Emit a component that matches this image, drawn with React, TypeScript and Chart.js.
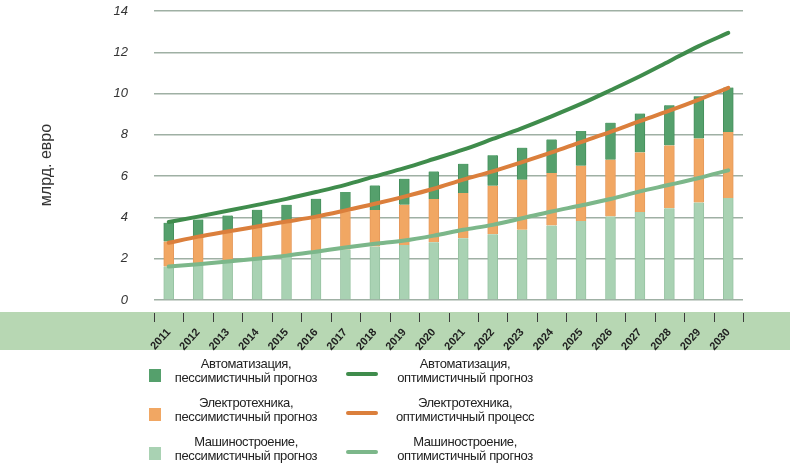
import React, { useEffect, useRef } from "react";
import { Chart, registerables } from "chart.js";

Chart.register(...registerables);

const years = ["2011","2012","2013","2014","2015","2016","2017","2018","2019","2020","2021","2022","2023","2024","2025","2026","2027","2028","2029","2030"];

// pessimistic forecasts (stacked bars, increments)
const machinePess = [1.62, 1.78, 1.94, 2.03, 2.18, 2.32, 2.45, 2.59, 2.67, 2.80, 2.99, 3.19, 3.40, 3.61, 3.83, 4.05, 4.26, 4.45, 4.72, 4.94];
const electroPess = [1.21, 1.22, 1.34, 1.47, 1.57, 1.70, 1.85, 1.77, 1.94, 2.09, 2.19, 2.34, 2.43, 2.54, 2.67, 2.75, 2.89, 3.04, 3.10, 3.20];
const autoPess = [0.91, 0.90, 0.81, 0.87, 0.86, 0.88, 0.93, 1.19, 1.26, 1.34, 1.42, 1.48, 1.55, 1.63, 1.69, 1.79, 1.88, 1.94, 2.05, 2.15];

// optimistic forecasts (lines, totals)
const autoOpt = [3.78, 4.04, 4.32, 4.61, 4.90, 5.23, 5.58, 5.99, 6.39, 6.83, 7.28, 7.80, 8.33, 8.90, 9.50, 10.16, 10.84, 11.57, 12.30, 12.94];
const electroOpt = [2.77, 3.07, 3.32, 3.56, 3.80, 4.04, 4.34, 4.66, 5.01, 5.39, 5.83, 6.23, 6.68, 7.15, 7.65, 8.14, 8.66, 9.17, 9.71, 10.28];
const machineOpt = [1.62, 1.73, 1.86, 2.00, 2.15, 2.34, 2.54, 2.72, 2.88, 3.12, 3.40, 3.64, 3.96, 4.29, 4.58, 4.89, 5.26, 5.58, 5.91, 6.28];

const yTicks = [0, 2, 4, 6, 8, 10, 12, 14];
const yTitle = "млрд. евро";

const legendRows = [
  { bar: ["Автоматизация,", "пессимистичный прогноз"], line: ["Автоматизация,", "оптимистичный прогноз"], barColor: "#55a06c", lineColor: "#3f8c4c" },
  { bar: ["Электротехника,", "пессимистичный прогноз"], line: ["Электротехника,", "оптимистичный процесс"], barColor: "#f1a763", lineColor: "#db7f3c" },
  { bar: ["Машиностроение,", "пессимистичный прогноз"], line: ["Машиностроение,", "оптимистичный прогноз"], barColor: "#a9d2b3", lineColor: "#7cb78a" },
];

const C = {
  autoBar: "#55a06c",
  autoBarEdge: "#458f5c",
  elecBar: "#f1a763",
  elecBarEdge: "#e6995a",
  machBar: "#a9d2b3",
  machBarEdge: "#97c3a2",
  autoLine: "#3f8c4c",
  elecLine: "#db7f3c",
  machLine: "#7cb78a",
  grid: "#9fb0a4",
  band: "#b7d7b3",
  text: "#333333",
};

const bandPlugin = {
  id: "band",
  beforeDraw(chart: any) {
    const ctx = chart.ctx;
    ctx.save();
    ctx.fillStyle = C.band;
    ctx.fillRect(0, 312, chart.width, 38);
    const x = chart.scales.x;
    const n = years.length;
    const step = x.getPixelForValue(1) - x.getPixelForValue(0);
    ctx.strokeStyle = "#3a3a3a";
    ctx.lineWidth = 1;
    for (let i = 0; i <= n; i++) {
      let px = x.getPixelForValue(Math.min(i, n - 1)) + (i < n ? -step / 2 : step / 2);
      px = Math.round(px) + 0.5;
      ctx.beginPath();
      ctx.moveTo(px, 313);
      ctx.lineTo(px, 322);
      ctx.stroke();
    }
    ctx.translate(47, 165);
    ctx.rotate(-Math.PI / 2);
    ctx.fillStyle = C.text;
    ctx.font = "16px 'Liberation Sans', Arial, sans-serif";
    ctx.textAlign = "center";
    ctx.textBaseline = "middle";
    ctx.fillText(yTitle, 0, 0);
    ctx.restore();
  },
};

function App() {
  const ref = useRef<HTMLCanvasElement | null>(null);

  useEffect(() => {
    const canvas = ref.current;
    if (!canvas) return;
    const barCommon = {
      type: "bar" as const,
      stack: "bars",
      barThickness: 10,
      borderWidth: { left: 1, right: 1, top: 0, bottom: 0 },
      borderSkipped: false as any,
      order: 2,
    };
    const lineCommon = {
      type: "line" as const,
      borderWidth: 4,
      pointRadius: 0,
      cubicInterpolationMode: "monotone" as const,
      borderCapStyle: "round" as const,
      fill: false,
      order: 1,
    };
    const chart = new Chart(canvas, {
      data: {
        labels: years,
        datasets: [
          { ...barCommon, label: "Машиностроение, пессимистичный прогноз", data: machinePess, backgroundColor: C.machBar, borderColor: C.machBarEdge },
          { ...barCommon, label: "Электротехника, пессимистичный прогноз", data: electroPess, backgroundColor: C.elecBar, borderColor: C.elecBarEdge },
          { ...barCommon, label: "Автоматизация, пессимистичный прогноз", data: autoPess, backgroundColor: C.autoBar, borderColor: C.autoBarEdge },
          { ...lineCommon, stack: "l1", label: "Автоматизация, оптимистичный прогноз", data: autoOpt, borderColor: C.autoLine, backgroundColor: C.autoLine },
          { ...lineCommon, stack: "l2", label: "Электротехника, оптимистичный процесс", data: electroOpt, borderColor: C.elecLine, backgroundColor: C.elecLine },
          { ...lineCommon, stack: "l3", label: "Машиностроение, оптимистичный прогноз", data: machineOpt, borderColor: C.machLine, backgroundColor: C.machLine },
        ] as any,
      },
      options: {
        animation: false,
        responsive: false,
        maintainAspectRatio: false,
        layout: { padding: { top: 11, right: 47, left: 0, bottom: 0 } },
        plugins: { legend: { display: false }, tooltip: { enabled: false } },
        scales: {
          x: {
            stacked: true,
            offset: true,
            afterFit: (s: any) => { s.height = 169; },
            grid: { display: false, drawTicks: false },
            border: { display: false },
            ticks: {
              autoSkip: false,
              minRotation: 48,
              maxRotation: 48,
              padding: 26,
              color: "#222",
              font: { family: "'Liberation Sans', Arial, sans-serif", size: 11, weight: "bold" as any },
            },
          },
          y: {
            stacked: true,
            min: 0,
            max: 14,
            afterFit: (s: any) => { s.width = 154; s.paddingTop = 0; s.paddingBottom = 0; },
            afterBuildTicks: (s: any) => { s.ticks = yTicks.map((v) => ({ value: v })); },
            grid: { color: C.grid, lineWidth: 1.5, drawTicks: false },
            border: { display: false },
            ticks: {
              padding: 26,
              color: C.text,
              font: { family: "'Liberation Sans', Arial, sans-serif", size: 13, style: "italic" },
            },
          },
        },
      },
      plugins: [bandPlugin],
    });
    return () => chart.destroy();
  }, []);

  const textStyle: React.CSSProperties = {
    position: "absolute",
    fontFamily: "'Liberation Sans', Arial, sans-serif",
    fontSize: 13,
    letterSpacing: "-0.4px",
    lineHeight: "14px",
    color: "#222",
    textAlign: "center",
    width: 200,
  };
  const rowTops = [357, 396, 435];

  return (
    <div style={{ position: "absolute", left: 0, top: 0, width: 790, height: 469, background: "#fff", overflow: "hidden" }}>
      <canvas ref={ref} width={790} height={469} style={{ position: "absolute", left: 0, top: 0, width: 790, height: 469 }} />
      {legendRows.map((r, i) => (
        <React.Fragment key={i}>
          <div style={{ position: "absolute", left: 149, top: rowTops[i] + 12, width: 12, height: 13, background: r.barColor }} />
          <div style={{ ...textStyle, left: 246 - 100, top: rowTops[i] }}>{r.bar[0]}<br />{r.bar[1]}</div>
          <div style={{ position: "absolute", left: 346, top: rowTops[i] + 15, width: 32, height: 4, borderRadius: 2, background: r.lineColor }} />
          <div style={{ ...textStyle, left: 465 - 100, top: rowTops[i] }}>{r.line[0]}<br />{r.line[1]}</div>
        </React.Fragment>
      ))}
    </div>
  );
}

export default App;
